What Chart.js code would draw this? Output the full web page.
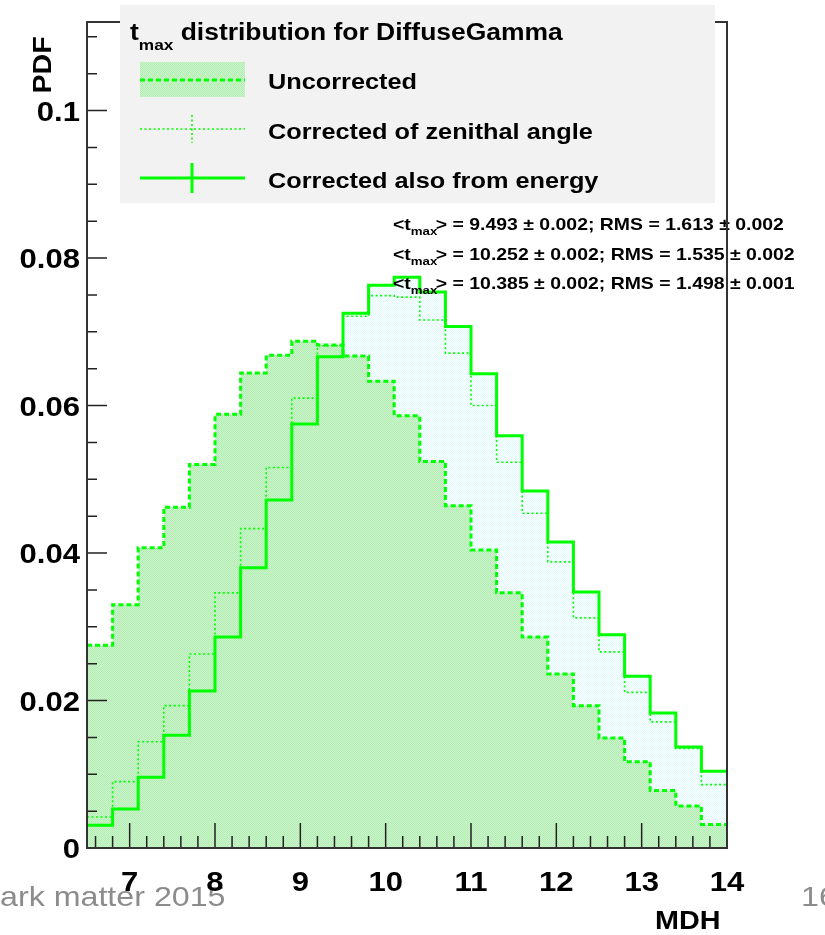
<!DOCTYPE html>
<html>
<head>
<meta charset="utf-8">
<script src="https://cdn.jsdelivr.net/npm/chart.js@4"></script>
<style>
  html, body { margin: 0; padding: 0; background: #fff; }
  #wrap { width: 825px; height: 935px; position: relative; }
</style>
</head>
<body>
<div id="wrap"><canvas id="c" width="825" height="935"></canvas></div>
<script>
// bin low edges (width 0.3), last edge closes the histogram
var binLow = [6.5, 6.8, 7.1, 7.4, 7.7, 8.0, 8.3, 8.6, 8.9, 9.2, 9.5, 9.8, 10.1,
              10.4, 10.7, 11.0, 11.3, 11.6, 11.9, 12.2, 12.5, 12.8, 13.1, 13.4, 13.7];
var lastEdge = 14.0;

var uncorrected = [0.0275, 0.0330, 0.0407, 0.0462, 0.0520, 0.0588, 0.0644, 0.0668, 0.0687,
                   0.0682, 0.0667, 0.0633, 0.0586, 0.0524, 0.0464, 0.0404, 0.0346, 0.0286,
                   0.0236, 0.0193, 0.0149, 0.0117, 0.0078, 0.0057, 0.0032];
var zenithCorr = [0.0042, 0.0090, 0.0144, 0.0193, 0.0263, 0.0346, 0.0433, 0.0516, 0.0610,
                  0.0681, 0.0721, 0.0749, 0.0747, 0.0716, 0.0671, 0.0600, 0.0523, 0.0454,
                  0.0388, 0.0312, 0.0266, 0.0211, 0.0171, 0.0135, 0.0086];
var energyCorr = [0.0031, 0.0053, 0.0096, 0.0153, 0.0213, 0.0286, 0.0380, 0.0472, 0.0575,
                  0.0666, 0.0725, 0.0763, 0.0774, 0.0754, 0.0707, 0.0643, 0.0559, 0.0484,
                  0.0415, 0.0347, 0.0289, 0.0233, 0.0183, 0.0137, 0.0104];

var legendTitle = ['t', 'max', ' distribution for DiffuseGamma'];
var legendNames = ['Uncorrected', 'Corrected of zenithal angle', 'Corrected also from energy'];
var statLines = [
  ['9.493', '0.002', '1.613', '0.002'],
  ['10.252', '0.002', '1.535', '0.002'],
  ['10.385', '0.002', '1.498', '0.001']
];

var GREEN = '#00ff00';
var SX = 1.15; // the original picture is a bit stretched horizontally
var FONT = '"Liberation Sans", Arial, sans-serif';

function makePattern(c1, c2) {
  var t = document.createElement('canvas');
  t.width = 2; t.height = 2;
  var g = t.getContext('2d');
  g.fillStyle = c2; g.fillRect(0, 0, 2, 2);
  g.fillStyle = c1; g.fillRect(0, 0, 1, 1); g.fillRect(1, 1, 1, 1);
  return g.createPattern(t, 'repeat');
}
var greenFill = makePattern('#b0edb0', '#cdf4cd');
var cyanFill = makePattern('#e4fafd', '#f7feff');

function histPoints(vals) {
  var pts = [];
  for (var i = 0; i < binLow.length; i++) pts.push({x: binLow[i], y: vals[i]});
  pts.push({x: lastEdge, y: vals[vals.length - 1]});
  return pts;
}

function setFont(ctx, size, weight) {
  ctx.font = (weight || 'bold') + ' ' + size + 'px ' + FONT;
}
function textW(ctx, s, size, weight) {
  ctx.save(); setFont(ctx, size, weight);
  var w = ctx.measureText(s).width * SX;
  ctx.restore();
  return w;
}
// draw text with the horizontal stretch, returns advance width
function txt(ctx, s, x, y, size, weight, color) {
  ctx.save();
  setFont(ctx, size, weight);
  ctx.fillStyle = color || '#000';
  ctx.textBaseline = 'alphabetic';
  ctx.textAlign = 'left';
  ctx.translate(x, y);
  ctx.scale(SX, 1);
  ctx.fillText(s, 0, 0);
  var w = ctx.measureText(s).width * SX;
  ctx.restore();
  return w;
}

var decorations = {
  id: 'decorations',
  afterDraw: function(chart) {
    var ctx = chart.ctx, a = chart.chartArea;
    var xs = chart.scales.x, ys = chart.scales.y;

    // slide remnants (under the axis labels)
    txt(ctx, 'ark matter 2015', 0, 906, 28, 'normal', '#8c8c8c');
    txt(ctx, '16', 801, 906, 28, 'normal', '#8c8c8c');

    // stats lines
    statLines.forEach(function(l, i) {
      var y = 230 + i * 29.5, x = 393;
      x += txt(ctx, '<t', x, y, 16.9);
      txt(ctx, 'max', x, y + 5, 11.5);
      x += 25;
      txt(ctx, '> = ' + l[0] + ' \u00b1 ' + l[1] + '; RMS = ' + l[2] + ' \u00b1 ' + l[3], x, y, 16.9);
    });

    // inner ticks
    ctx.save();
    ctx.strokeStyle = '#222';
    ctx.lineWidth = 1.5;
    ctx.beginPath();
    for (var k = 66; k < 140; k += 2) {
      var px = xs.getPixelForValue(k / 10);
      var len = (k % 10 === 0) ? 25 : 12;
      ctx.moveTo(px, a.bottom); ctx.lineTo(px, a.bottom - len);
    }
    for (var m = 1; m <= 22; m++) {
      var py = ys.getPixelForValue(m * 0.005);
      var l2 = (m % 4 === 0) ? 20 : 10;
      ctx.moveTo(a.left, py); ctx.lineTo(a.left + l2, py);
    }
    ctx.stroke();

    // frame
    ctx.lineWidth = 2;
    ctx.strokeStyle = '#333';
    ctx.strokeRect(a.left, a.top, a.right - a.left, a.bottom - a.top);
    ctx.restore();

    // tick labels from the scales' own ticks
    xs.ticks.forEach(function(t) {
      var s = String(t.value), w = textW(ctx, s, 27);
      txt(ctx, s, xs.getPixelForValue(t.value) - w / 2, 891, 27);
    });
    ys.ticks.forEach(function(t) {
      var s = t.value === 0 ? '0' : String(+t.value.toFixed(3));
      var w = textW(ctx, s, 27);
      txt(ctx, s, 80 - w, ys.getPixelForValue(t.value) + 10, 27);
    });

    // legend box
    ctx.save();
    ctx.fillStyle = '#f2f2f2';
    ctx.fillRect(120, 5, 595, 198);
    var x0 = txt(ctx, legendTitle[0], 130, 40, 23);
    var x1 = txt(ctx, legendTitle[1], 130 + x0, 50, 15);
    txt(ctx, legendTitle[2], 130 + x0 + x1, 40, 23);

    // uncorrected: filled box + dashed line
    ctx.fillStyle = greenFill;
    ctx.fillRect(140, 62, 105, 35);
    ctx.strokeStyle = GREEN;
    ctx.lineWidth = 3;
    ctx.setLineDash([5, 3]);
    ctx.beginPath(); ctx.moveTo(140, 80); ctx.lineTo(245, 80); ctx.stroke();
    // zenithal: dotted line with error bar
    ctx.lineWidth = 1.6;
    ctx.setLineDash([2, 2.5]);
    ctx.beginPath();
    ctx.moveTo(140, 129); ctx.lineTo(245, 129);
    ctx.moveTo(192, 115); ctx.lineTo(192, 143);
    ctx.stroke();
    // energy: solid line with error bar
    ctx.setLineDash([]);
    ctx.lineWidth = 3;
    ctx.beginPath();
    ctx.moveTo(140, 178); ctx.lineTo(245, 178);
    ctx.moveTo(192, 163); ctx.lineTo(192, 193);
    ctx.stroke();
    ctx.restore();

    legendNames.forEach(function(n, i) {
      txt(ctx, n, 268, 89 + i * 49.5, 22);
    });

    // axis titles
    ctx.save();
    ctx.translate(51, 65);
    ctx.rotate(-Math.PI / 2);
    ctx.scale(1.1, 1);
    setFont(ctx, 26);
    ctx.textAlign = 'center';
    ctx.fillStyle = '#000';
    ctx.fillText('PDF', 0, 0);
    ctx.restore();
    txt(ctx, 'MDH', 655, 929, 25);
  }
};

new Chart(document.getElementById('c'), {
  type: 'line',
  data: {
    datasets: [
      {
        label: legendNames[0], data: histPoints(uncorrected), stepped: 'before',
        borderColor: GREEN, borderWidth: 3, borderDash: [5, 3],
        backgroundColor: greenFill, fill: 'origin', pointRadius: 0
      },
      {
        label: legendNames[1], data: histPoints(zenithCorr), stepped: 'before',
        borderColor: GREEN, borderWidth: 1.6, borderDash: [2, 2.5],
        fill: false, pointRadius: 0
      },
      {
        label: legendNames[2], data: histPoints(energyCorr), stepped: 'before',
        borderColor: GREEN, borderWidth: 3,
        backgroundColor: cyanFill, fill: 'origin', pointRadius: 0
      }
    ]
  },
  options: {
    responsive: false,
    animation: false,
    devicePixelRatio: 1,
    layout: { padding: { left: 0, top: 22, right: 98, bottom: 0 } },
    plugins: {
      legend: { display: false },
      tooltip: { enabled: false },
      filler: { drawTime: 'beforeDatasetsDraw' }
    },
    scales: {
      x: {
        type: 'linear', min: 6.5, max: 14,
        afterFit: function(s) { s.height = 87; },
        grid: { display: false, drawTicks: false },
        border: { display: false },
        ticks: { display: false, stepSize: 1, includeBounds: false, autoSkip: false }
      },
      y: {
        type: 'linear', min: 0, max: 0.112,
        afterFit: function(s) { s.width = 87; },
        grid: { display: false, drawTicks: false },
        border: { display: false },
        ticks: { display: false, stepSize: 0.02, includeBounds: false }
      }
    }
  },
  plugins: [decorations]
});
</script>
</body>
</html>
